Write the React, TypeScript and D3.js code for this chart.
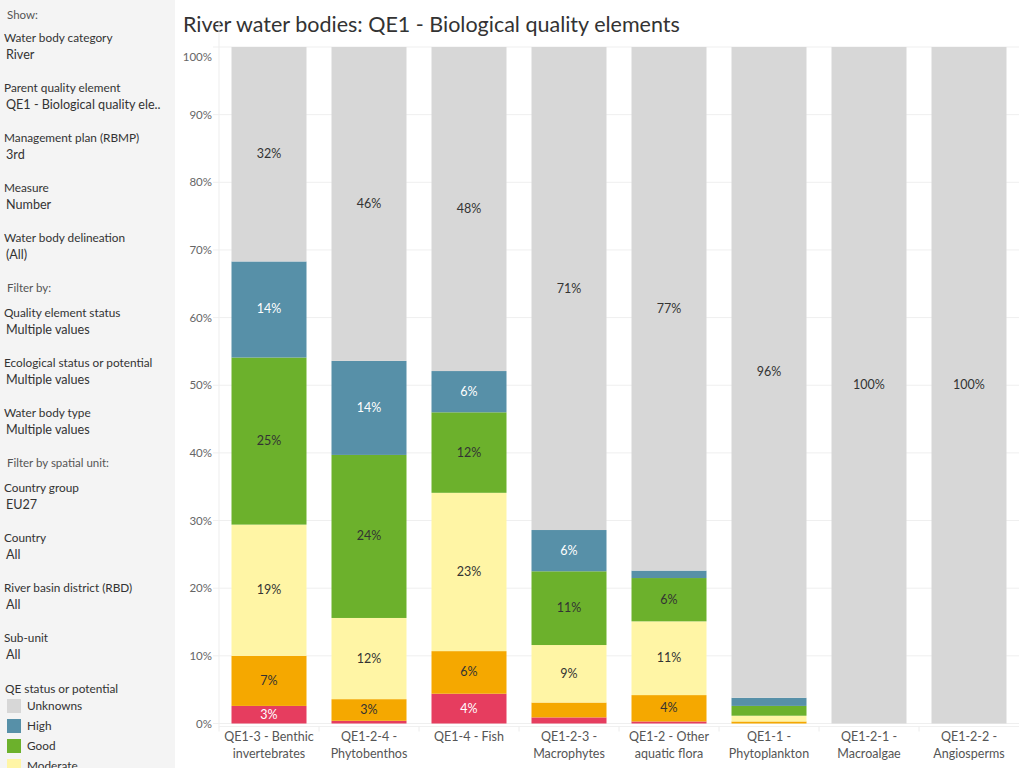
import React, { useEffect, useRef } from "react";
import * as d3 from "d3";

const categories = [
  "QE1-3 - Benthic invertebrates",
  "QE1-2-4 - Phytobenthos",
  "QE1-4 - Fish",
  "QE1-2-3 - Macrophytes",
  "QE1-2 - Other aquatic flora",
  "QE1-1 - Phytoplankton",
  "QE1-2-1 - Macroalgae",
  "QE1-2-2 - Angiosperms",
];
const categoryLines = [
  ["QE1-3 - Benthic", "invertebrates"],
  ["QE1-2-4 -", "Phytobenthos"],
  ["QE1-4 - Fish"],
  ["QE1-2-3 -", "Macrophytes"],
  ["QE1-2 - Other", "aquatic flora"],
  ["QE1-1 -", "Phytoplankton"],
  ["QE1-2-1 -", "Macroalgae"],
  ["QE1-2-2 -", "Angiosperms"],
];

// stacked bottom to top
const statuses = ["Bad", "Poor", "Moderate", "Good", "High", "Unknowns"];
const bad = [2.6, 0.4, 4.4, 0.9, 0.3, 0.0, 0, 0];
const poor = [7.4, 3.2, 6.3, 2.2, 3.9, 0.3, 0, 0];
const moderate = [19.4, 12.0, 23.4, 8.5, 10.9, 0.85, 0, 0];
const good = [24.7, 24.1, 11.9, 10.9, 6.4, 1.45, 0, 0];
const high = [14.2, 13.9, 6.1, 6.1, 1.1, 1.2, 0, 0];
const unknowns = [31.7, 46.4, 47.9, 71.4, 77.4, 96.2, 100, 100];

const statusColors: Record<string, string> = {
  Bad: "#e63d5f",
  Poor: "#f5a800",
  Moderate: "#fff5a5",
  Good: "#6cb12c",
  High: "#5790a8",
  Unknowns: "#d7d7d7",
};
const whiteText = ["Bad", "High"];

const legendItems = ["Unknowns", "High", "Good", "Moderate"];

const yTicks = [0, 10, 20, 30, 40, 50, 60, 70, 80, 90, 100];

const filters: [string, string][] = [
  ["Water body category", "River"],
  ["Parent quality element", "QE1 - Biological quality ele.."],
  ["Management plan (RBMP)", "3rd"],
  ["Measure", "Number"],
  ["Water body delineation", "(All)"],
];
const filters2: [string, string][] = [
  ["Quality element status", "Multiple values"],
  ["Ecological status or potential", "Multiple values"],
  ["Water body type", "Multiple values"],
];
const filters3: [string, string][] = [
  ["Country group", "EU27"],
  ["Country", "All"],
  ["River basin district (RBD)", "All"],
  ["Sub-unit", "All"],
];

const FONT = "Lato, 'Open Sans', sans-serif";

const App: React.FC = () => {
  const svgRef = useRef<SVGSVGElement | null>(null);

  useEffect(() => {
    const width = 1024;
    const height = 768;
    const svg = d3.select(svgRef.current);
    svg.selectAll("*").remove();
    svg.attr("width", width).attr("height", height).style("font-family", FONT);

    svg.append("rect").attr("width", width).attr("height", height).attr("fill", "#ffffff");

    // left panel
    const panel = svg.append("g");
    panel.append("rect").attr("width", 175).attr("height", height).attr("fill", "#f4f4f4");

    const heading = (txt: string, y: number) =>
      panel.append("text").attr("x", 7).attr("y", y).attr("font-size", 11.5).attr("fill", "#555").text(txt);
    const item = (lbl: string, val: string, y: number) => {
      panel.append("text").attr("x", 4).attr("y", y).attr("font-size", 11.8).attr("fill", "#333").text(lbl);
      panel.append("text").attr("x", 6).attr("y", y + 17).attr("font-size", 12.6).attr("fill", "#333").text(val);
    };

    heading("Show:", 19);
    filters.forEach((f, i) => item(f[0], f[1], 42 + i * 50));
    heading("Filter by:", 292);
    filters2.forEach((f, i) => item(f[0], f[1], 317 + i * 50));
    heading("Filter by spatial unit:", 467);
    filters3.forEach((f, i) => item(f[0], f[1], 492 + i * 50));
    panel.append("text").attr("x", 5).attr("y", 693).attr("font-size", 11.8).attr("fill", "#333").text("QE status or potential");
    legendItems.forEach((s, i) => {
      const y = 699 + i * 20;
      panel.append("rect").attr("x", 7).attr("y", y).attr("width", 14).attr("height", 14).attr("fill", statusColors[s]);
      panel.append("text").attr("x", 27).attr("y", y + 11).attr("font-size", 11.8).attr("fill", "#333").text(s);
    });

    // title
    svg
      .append("text")
      .attr("x", 183)
      .attr("y", 32)
      .attr("font-size", 21.5)
      .attr("fill", "#333")
      .text("River water bodies: QE1 - Biological quality elements");

    const left = 219;
    const right = 1019;
    const top = 47;
    const bottom = 723.5;

    const x = d3.scaleBand<string>().domain(categories).range([left, right]).paddingInner(0.25).paddingOuter(0.125);
    const y = d3.scaleLinear().domain([0, 100]).range([bottom, top]);

    // gridlines
    const g = svg.append("g");
    g.selectAll("line.grid")
      .data(yTicks)
      .enter()
      .append("line")
      .attr("x1", left - 6)
      .attr("x2", right)
      .attr("y1", (d) => y(d))
      .attr("y2", (d) => y(d))
      .attr("stroke", "#efefef")
      .attr("stroke-width", 1);
    g.append("line")
      .attr("x1", left)
      .attr("x2", left)
      .attr("y1", top - 26)
      .attr("y2", bottom + 4)
      .attr("stroke", "#ededed");
    g.selectAll("text.ytick")
      .data(yTicks)
      .enter()
      .append("text")
      .attr("x", left - 7)
      .attr("y", (d) => (d === 100 ? y(d) + 14 : y(d) + 4))
      .attr("text-anchor", "end")
      .attr("font-size", 11.5)
      .attr("fill", "#666")
      .text((d) => `${d}%`);

    // stacked data
    const seriesValues: Record<string, number[]> = {
      Bad: bad,
      Poor: poor,
      Moderate: moderate,
      Good: good,
      High: high,
      Unknowns: unknowns,
    };
    const rows = categories.map((c, i) => {
      const r: Record<string, number | string> = { cat: c };
      statuses.forEach((s) => (r[s] = seriesValues[s][i]));
      return r;
    });
    const stack = d3.stack<Record<string, number | string>>().keys(statuses).value((d, k) => d[k] as number);
    const stacked = stack(rows);

    const layers = svg
      .append("g")
      .selectAll("g.layer")
      .data(stacked)
      .enter()
      .append("g")
      .attr("fill", (d) => statusColors[d.key]);

    layers
      .selectAll("rect")
      .data((d) => d.map((p) => ({ p, key: d.key })))
      .enter()
      .append("rect")
      .attr("x", (d) => x(d.p.data.cat as string)!)
      .attr("width", x.bandwidth())
      .attr("y", (d) => y(d.p[1]))
      .attr("height", (d) => Math.max(0, y(d.p[0]) - y(d.p[1])));

    layers
      .selectAll("text")
      .data((d) => d.map((p) => ({ p, key: d.key })).filter((e) => e.p[1] - e.p[0] >= 2.5))
      .enter()
      .append("text")
      .attr("x", (d) => x(d.p.data.cat as string)! + x.bandwidth() / 2)
      .attr("y", (d) => y((d.p[0] + d.p[1]) / 2) + 4)
      .attr("text-anchor", "middle")
      .attr("font-size", 12.5)
      .attr("fill", (d) => (whiteText.includes(d.key) ? "#ffffff" : "#333"))
      .text((d) => `${Math.round(d.p[1] - d.p[0])}%`);

    // x axis labels
    const xa = svg.append("g");
    xa.append("line").attr("x1", left).attr("x2", right).attr("y1", bottom + 3).attr("y2", bottom + 3).attr("stroke", "#f0f0f0");
    categories.forEach((c, i) => {
      const cx = x(c)! + x.bandwidth() / 2;
      categoryLines[i].forEach((ln, j) => {
        xa.append("text")
          .attr("x", cx)
          .attr("y", 741 + j * 17)
          .attr("text-anchor", "middle")
          .attr("font-size", 12.5)
          .attr("fill", "#555")
          .text(ln);
      });
    });
    categories.forEach((c) => {
      const bx = x(c)! - (x.step() - x.bandwidth()) / 2;
      xa.append("line").attr("x1", bx).attr("x2", bx).attr("y1", bottom + 3).attr("y2", bottom + 8).attr("stroke", "#ececec");
    });
  }, []);

  return (
    <div style={{ position: "fixed", left: 0, top: 0, width: 1024, height: 768, overflow: "hidden" }}>
      <svg ref={svgRef} style={{ display: "block" }} />
    </div>
  );
};

export default App;
